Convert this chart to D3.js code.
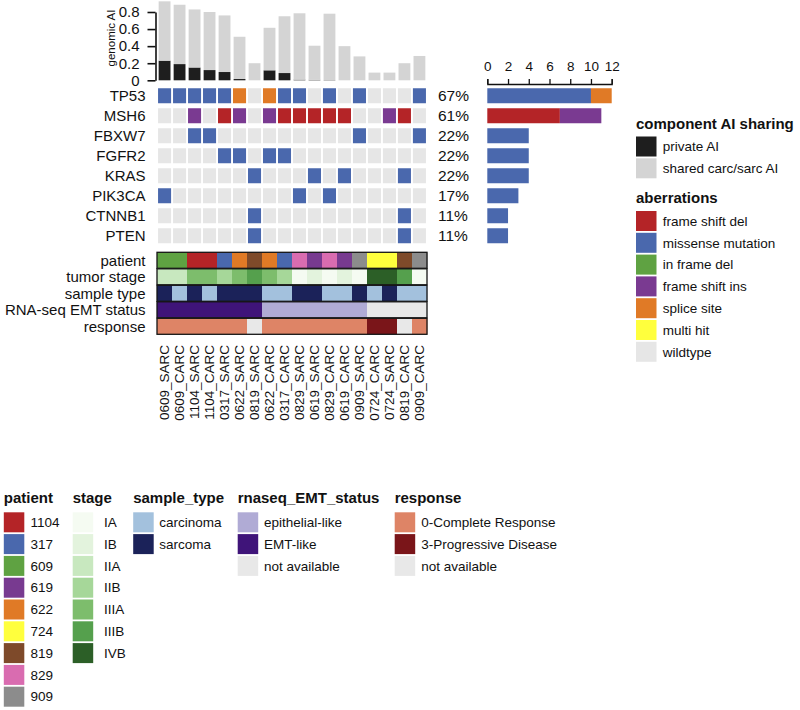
<!DOCTYPE html>
<html><head><meta charset="utf-8">
<script src="https://cdn.jsdelivr.net/npm/d3@7"></script>
<style>
body{margin:0;background:#fff}
svg{display:block}
text{font-family:"Liberation Sans",Arial,Helvetica,sans-serif;fill:#111}
</style>
</head><body><svg id="c" width="800" height="710"></svg>
<script>
// ---------------- data ----------------
const samples = ["0609_SARC","0609_CARC","1104_SARC","1104_CARC","0317_SARC","0622_SARC","0819_SARC","0622_CARC","0317_CARC","0829_SARC","0619_SARC","0829_CARC","0619_CARC","0909_SARC","0724_CARC","0724_SARC","0819_CARC","0909_CARC"];
const privateAI = [0.23,0.19,0.15,0.12,0.097,0.015,0,0.117,0.085,0.007,0.005,0.003,0,0,0,0,0,0];
const sharedAI  = [0.695,0.695,0.68,0.68,0.663,0.495,0.20,0.498,0.665,0.778,0.40,0.777,0.40,0.28,0.09,0.09,0.20,0.285];
const aiTicks = [0,0.2,0.4,0.6,0.8];

const genes = ["TP53","MSH6","FBXW7","FGFR2","KRAS","PIK3CA","CTNNB1","PTEN"];
// m = missense, s = splice site, d = frame shift del, i = frame shift ins, "" = wildtype
const TP53   = ["m","m","m","m","m","s","","s","m","m","","m","","m","","","","m"];
const MSH6   = ["","","i","","d","i","","i","d","d","d","d","d","","","i","d",""];
const FBXW7  = ["","","m","m","","","","","","","","","","m","","","","m"];
const FGFR2  = ["","","","","m","m","","m","m","","","","","","","","",""];
const KRAS   = ["","","","","","","m","","","","m","","m","","","","m",""];
const PIK3CA = ["m","","","","","","","","","m","","m","","","","","",""];
const CTNNB1 = ["","","","","","","m","","","","","","","","","","m",""];
const PTEN   = ["","","","","","","m","","","","","","","","","","m",""];
const countTicks = [0,2,4,6,8,10,12];

const patient    = ["609","609","1104","1104","317","622","819","622","317","829","619","829","619","909","724","724","819","909"];
const stage      = ["IIA","IIA","IIIA","IIIA","IIB","IIIA","IIIB","IIIA","IIB","IA","IB","IA","IB","IA","IVB","IVB","IIIB","IA"];
const sampleType = ["sarcoma","carcinoma","sarcoma","carcinoma","sarcoma","sarcoma","sarcoma","carcinoma","carcinoma","sarcoma","sarcoma","carcinoma","carcinoma","sarcoma","carcinoma","sarcoma","carcinoma","carcinoma"];
const emtStatus  = ["EMT-like","EMT-like","EMT-like","EMT-like","EMT-like","EMT-like","EMT-like","epithelial-like","epithelial-like","epithelial-like","epithelial-like","epithelial-like","epithelial-like","epithelial-like","not available","not available","not available","not available"];
const response   = ["0-Complete Response","0-Complete Response","0-Complete Response","0-Complete Response","0-Complete Response","0-Complete Response","not available","0-Complete Response","0-Complete Response","0-Complete Response","0-Complete Response","0-Complete Response","0-Complete Response","0-Complete Response","3-Progressive Disease","3-Progressive Disease","not available","0-Complete Response"];
const annoNames  = ["patient","tumor stage","sample type","RNA-seq EMT status","response"];

// legend categories
const aiKeys    = ["private AI","shared carc/sarc AI"];
const aberrKeys = ["frame shift del","missense mutation","in frame del","frame shift ins","splice site","multi hit","wildtype"];
const patientKeys = ["1104","317","609","619","622","724","819","829","909"];
const stageKeys   = ["IA","IB","IIA","IIB","IIIA","IIIB","IVB"];
const sampleKeys  = ["carcinoma","sarcoma"];
const emtKeys     = ["epithelial-like","EMT-like","not available"];
const respKeys    = ["0-Complete Response","3-Progressive Disease","not available"];

// colours
const aiCol = d3.scaleOrdinal(aiKeys, ["#1e1e1e","#d4d4d4"]);
const aberrCol = d3.scaleOrdinal(aberrKeys, ["#b42427","#4a68ad","#5fa242","#7a3a91","#e07a26","#ffff3d","#e6e6e6"]);
const codeToAberr = {m:"missense mutation", s:"splice site", d:"frame shift del", i:"frame shift ins", "":"wildtype"};
const patientCol = d3.scaleOrdinal(patientKeys, ["#b42427","#4a68ad","#5fa242","#783a90","#e07a26","#ffff3d","#7e4a2a","#d96cb0","#8c8c8c"]);
const stageCol   = d3.scaleOrdinal(stageKeys, ["#f5fbf2","#e3f3dd","#c8e8bf","#a6d799","#7dbd6c","#55a04d","#2c5f27"]);
const sampleCol  = d3.scaleOrdinal(sampleKeys, ["#a3c1dd","#1b2259"]);
const emtCol     = d3.scaleOrdinal(emtKeys, ["#b0abd5","#3f1479","#e8e8e8"]);
const respCol    = d3.scaleOrdinal(respKeys, ["#de8466","#7a1519","#e8e8e8"]);

// ---------------- build ----------------
const FONT = '"Liberation Sans",Arial,Helvetica,sans-serif';
const svg = d3.select("#c");
const geneRows = [TP53,MSH6,FBXW7,FGFR2,KRAS,PIK3CA,CTNNB1,PTEN];
const N = samples.length;

const x  = d3.scaleBand().domain(samples).range([157,427]).paddingInner(0.13).paddingOuter(0.07);
const xa = d3.scaleBand().domain(samples).range([157,427]);
const yAI = d3.scaleLinear().domain([0,0.8]).range([80.3,12]);
const yG = d3.scaleBand().domain(genes).range([85.75,245.75]).paddingInner(0.25).paddingOuter(0.125);
const xC = d3.scaleLinear().domain([0,12]).range([487.3,611.7]);
const yA = d3.scaleBand().domain(annoNames).range([252.3,334.3]).paddingInner(0.03);

// genomic AI stacked bars
const aiTable = samples.map((s,i)=>({sample:s,"private AI":privateAI[i],"shared carc/sarc AI":sharedAI[i]}));
const aiStack = d3.stack().keys(aiKeys)(aiTable);
svg.append("g").selectAll("g").data(aiStack).join("g")
  .attr("fill",d=>aiCol(d.key))
  .selectAll("rect").data(d=>d).join("rect")
  .attr("x",d=>x(d.data.sample)+0.6)
  .attr("width",x.bandwidth()-1.2)
  .attr("y",d=>yAI(d[1]))
  .attr("height",d=>Math.max(0,yAI(d[0])-yAI(d[1])));

const gAI = svg.append("g").attr("transform","translate(155.5,0)")
  .call(d3.axisLeft(yAI).tickValues(aiTicks).tickSize(8).tickPadding(8).tickSizeOuter(0)
    .tickFormat(d=>d===0?"0":d3.format(".1f")(d)));
gAI.attr("font-family",FONT).attr("font-size",15);
gAI.selectAll("path,line").attr("stroke","#111").attr("stroke-width",1.6);
gAI.selectAll("text").attr("fill","#111");
svg.append("text").attr("transform","translate(111,38) rotate(-90)")
  .attr("text-anchor","middle").attr("dy","0.35em").attr("font-size",11.5).text("genomic AI");

// oncoprint grid
const cells = [];
geneRows.forEach((row,gi)=>row.forEach((c,si)=>cells.push({gene:genes[gi],sample:samples[si],type:codeToAberr[c]})));
svg.append("g").selectAll("rect").data(cells).join("rect")
  .attr("x",d=>x(d.sample)).attr("width",x.bandwidth())
  .attr("y",d=>yG(d.gene)).attr("height",yG.bandwidth())
  .attr("fill",d=>aberrCol(d.type));

svg.append("g").selectAll("text").data(genes).join("text")
  .attr("x",145.5).attr("y",d=>yG(d)+yG.bandwidth()/2).attr("dy","0.35em")
  .attr("text-anchor","end").attr("font-size",15).text(d=>d);

// percent labels
svg.append("g").selectAll("text").data(geneRows).join("text")
  .attr("x",438).attr("y",(d,i)=>yG(genes[i])+yG.bandwidth()/2).attr("dy","0.35em")
  .attr("font-size",15.5).text(d=>Math.round(100*d.filter(c=>c!=="").length/N)+"%");

// right count bars
const stackOrder = ["missense mutation","frame shift del","frame shift ins","splice site","in frame del","multi hit"];
const countTable = genes.map((g,gi)=>{
  const o={gene:g};
  stackOrder.forEach(k=>o[k]=geneRows[gi].filter(c=>codeToAberr[c]===k).length);
  return o;
});
const cStack = d3.stack().keys(stackOrder)(countTable);
svg.append("g").selectAll("g").data(cStack).join("g")
  .attr("fill",d=>aberrCol(d.key))
  .selectAll("rect").data(d=>d.filter(v=>v[1]>v[0])).join("rect")
  .attr("x",d=>xC(d[0])).attr("width",d=>xC(d[1])-xC(d[0]))
  .attr("y",d=>yG(d.data.gene)).attr("height",yG.bandwidth());
const gC = svg.append("g").attr("transform","translate(0,84)")
  .call(d3.axisTop(xC).tickValues(countTicks).tickSize(5).tickPadding(8).tickSizeOuter(5));
gC.attr("font-family",FONT).attr("font-size",13.5);
gC.selectAll("path,line").attr("stroke","#111").attr("stroke-width",1.3);
gC.selectAll("text").attr("fill","#111");

// annotation rows
const annoRows = [
  {name:"patient",vals:patient,col:patientCol},
  {name:"tumor stage",vals:stage,col:stageCol},
  {name:"sample type",vals:sampleType,col:sampleCol},
  {name:"RNA-seq EMT status",vals:emtStatus,col:emtCol},
  {name:"response",vals:response,col:respCol}
];
annoRows.forEach(r=>{
  const g = svg.append("g");
  g.selectAll("rect").data(r.vals.map((v,i)=>({v,s:samples[i]}))).join("rect")
    .attr("x",d=>xa(d.s)).attr("width",xa.bandwidth()+0.4)
    .attr("y",yA(r.name)).attr("height",yA.bandwidth())
    .attr("fill",d=>r.col(d.v));
  g.append("rect").attr("x",xa.range()[0]).attr("width",xa.range()[1]-xa.range()[0])
    .attr("y",yA(r.name)).attr("height",yA.bandwidth())
    .attr("fill","none").attr("stroke","#151515").attr("stroke-width",1.3);
  svg.append("text").attr("x",145.5).attr("y",yA(r.name)+yA.bandwidth()/2).attr("dy","0.35em")
    .attr("text-anchor","end").attr("font-size",15).text(r.name);
});

// sample labels
svg.append("g").selectAll("text").data(samples).join("text")
  .attr("transform",d=>`translate(${x(d)+x.bandwidth()/2},345) rotate(-90)`)
  .attr("text-anchor","end").attr("dy","0.35em").attr("font-size",13.5).text(d=>d);

// legends
function legend(title,keys,col,x0,yTitle,ySw,labelX){
  const g = svg.append("g");
  g.append("text").attr("x",x0).attr("y",yTitle).attr("font-size",15).attr("font-weight","bold").text(title);
  const it = g.selectAll("g").data(keys).join("g");
  it.append("rect").attr("x",x0).attr("y",(d,i)=>ySw+i*21.8).attr("width",20.5).attr("height",20)
    .attr("fill",d=>col(d));
  it.append("text").attr("x",labelX).attr("y",(d,i)=>ySw+i*21.8+10).attr("dy","0.35em")
    .attr("font-size",13.5).text(d=>d);
}
legend("component AI sharing",aiKeys,aiCol,636,128.5,136.5,662.7);
legend("aberrations",aberrKeys,aberrCol,636,202.5,211,662.7);
legend("patient",patientKeys,patientCol,3.8,502.5,512.3,30.6);
legend("stage",stageKeys,stageCol,72.7,502.5,512.3,104);
legend("sample_type",sampleKeys,sampleCol,133.2,502.5,512.3,159.2);
legend("rnaseq_EMT_status",emtKeys,emtCol,237.7,502.5,512.3,264);
legend("response",respKeys,respCol,394.7,502.5,512.3,421.3);
</script></body></html>
